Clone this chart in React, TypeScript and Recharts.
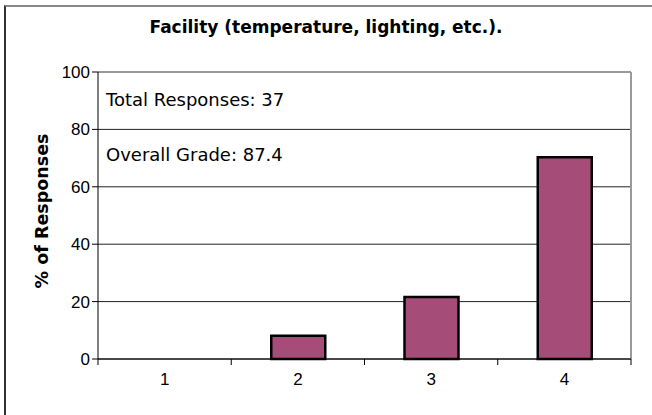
import { BarChart, Bar, XAxis, YAxis, CartesianGrid, ReferenceLine } from 'recharts';

const categories = ['1', '2', '3', '4'];
const percentValues = [0, 8.1, 21.6, 70.3];
const yTicks = [0, 20, 40, 60, 80, 100];
const chartTitle = 'Facility (temperature, lighting, etc.).';
const yLabel = '% of Responses';
const notes = ['Total Responses: 37', 'Overall Grade: 87.4'];

const data = categories.map((c, i) => ({ name: c, pct: percentValues[i] }));

const W = 652;
const H = 415;
const plotLeft = 98;
const plotRight = 631;
const plotTop = 72;
const plotBottom = 359;

function CategoryTick(props: any) {
  const { x, y, payload, index, width } = props;
  const band = width / categories.length;
  const left = x - band / 2;
  return (
    <g>
      <line x1={left} x2={left} y1={y - 8} y2={y - 2} stroke="#000" />
      {index === categories.length - 1 && (
        <line x1={x + band / 2} x2={x + band / 2} y1={y - 8} y2={y - 2} stroke="#000" />
      )}
      <text x={x} y={y + 18} textAnchor="middle" fontSize={17} fill="#000" fontFamily="Liberation Sans, Arial, sans-serif">
        {payload.value}
      </text>
    </g>
  );
}

export default function App() {
  return (
    <div style={{ position: 'absolute', left: 0, top: 0, width: W, height: H, background: '#fff' }}>
      {/* outer frame: only its top and left edges fall inside the picture */}
      <div style={{
        position: 'absolute', left: 4, top: 5, width: W, height: H,
        borderTop: '2px solid #888', borderLeft: '2px solid #333',
      }} />
      <div style={{
        position: 'absolute', left: 0, width: W, top: 17, textAlign: 'center',
        fontFamily: 'DejaVu Sans, sans-serif', fontWeight: 700, fontSize: 17, color: '#000',
      }}>
        {chartTitle}
      </div>
      <div style={{
        position: 'absolute', left: 42, top: 211, transform: 'translate(-50%, -50%) rotate(-90deg)', whiteSpace: 'nowrap',
        fontFamily: 'DejaVu Sans, sans-serif', fontWeight: 700, fontSize: 17.5, color: '#000',
      }}>
        {yLabel}
      </div>
      <div style={{ position: 'absolute', left: 0, top: 0 }}>
        <BarChart
          width={W}
          height={H}
          data={data}
          margin={{ top: plotTop, right: W - plotRight, bottom: 0, left: plotLeft - 50 }}
          barCategoryGap="30%"
        >
          <CartesianGrid vertical={false} stroke="#222" />
          <CartesianGrid horizontal={false} verticalPoints={[plotRight]} stroke="#999" strokeWidth={2} />
          <ReferenceLine y={100} stroke="#999" strokeWidth={2} />
          <XAxis dataKey="name" axisLine={{ stroke: '#000' }} tickLine={false} tick={<CategoryTick />} height={H - plotBottom} interval={0} />
          <YAxis
            width={50}
            domain={[0, 100]}
            ticks={yTicks}
            interval={0}
            axisLine={{ stroke: '#000' }}
            tickLine={{ stroke: '#000' }}
            tickSize={6}
            tick={{ fontSize: 17, fill: '#000', fontFamily: 'Liberation Sans, Arial, sans-serif' }}
          />
          <Bar dataKey="pct" fill="#A64C79" stroke="#000" strokeWidth={2.5} barSize={54} isAnimationActive={false} />
        </BarChart>
      </div>
      {notes.map((n, i) => (
        <div key={n} style={{
          position: 'absolute', left: 106, top: 89 + i * 55,
          fontFamily: 'DejaVu Sans, sans-serif', fontSize: 18, color: '#000', whiteSpace: 'nowrap',
        }}>
          {n}
        </div>
      ))}
    </div>
  );
}
